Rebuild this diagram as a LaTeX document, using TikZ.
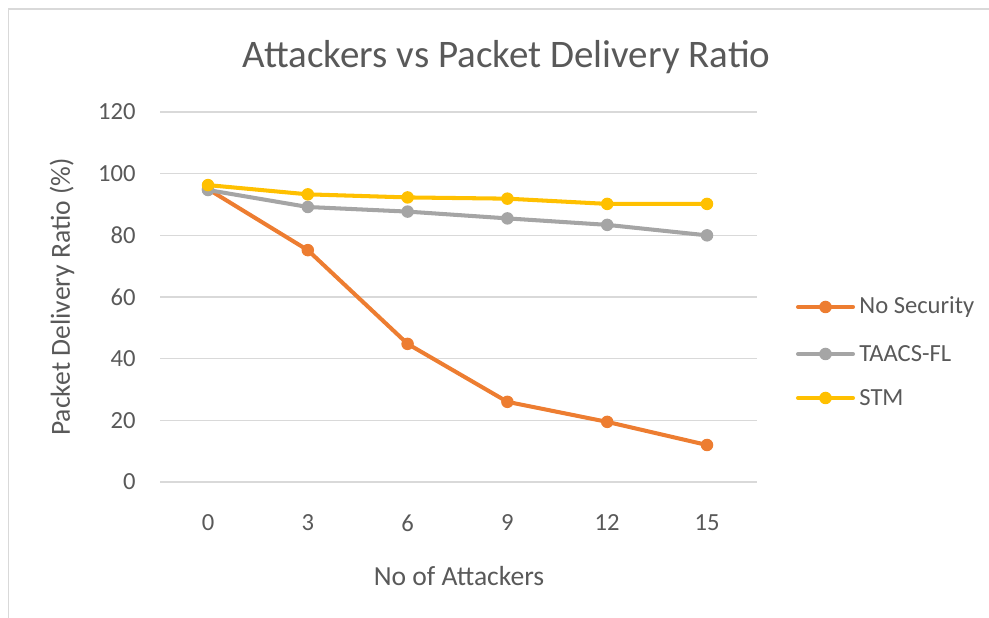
\documentclass[tikz,border=0pt]{standalone}
\usepackage{fontspec}
\setmainfont{Carlito}
\usepackage{xcolor,tikz}
\definecolor{nosec}{HTML}{ED7D31}
\definecolor{taacs}{HTML}{A5A5A5}
\definecolor{stm}{HTML}{FFC000}
\definecolor{txtgray}{HTML}{595959}
\definecolor{gridgray}{HTML}{D9D9D9}

\begin{document}
\begin{tikzpicture}[every node/.style={font=\fontsize{14}{16}\selectfont,text=txtgray},
  axtitle/.style={font=\fontsize{15.7}{18}\selectfont},
  series/.style={line width=2.3pt,line join=round,line cap=round},
  dot/.style={circle,fill=#1,inner sep=0pt,minimum size=0.25cm}]
\useasboundingbox (0,0) rectangle (19.78,12.36);
\draw[gridgray,line width=1.1pt] (0.17,0)--(0.17,12.18)--(19.78,12.18);
\node (title) at (10.13,11.22) {\fontsize{22.2}{25}\selectfont Attackers vs Packet Delivery Ratio};
% grid and value axis
\foreach \v in {0,20,...,120}{
  \draw[gridgray,line width=.6pt] (3.20,2.72+\v*0.061667)--(15.14,2.72+\v*0.061667);
  \node[anchor=east,inner sep=0pt] (ytick\v) at (2.72,2.72+\v*0.061667) {\v};
}
% category axis
\node (xtick0) at (4.160,1.90) {0};
\node (xtick3) at (6.156,1.90) {3};
\node (xtick6) at (8.152,1.90) {6};
\node (xtick9) at (10.148,1.90) {9};
\node (xtick12) at (12.144,1.90) {12};
\node (xtick15) at (14.140,1.90) {15};
\node[axtitle] (xlabel) at (9.18,0.84) {No of Attackers};
\node[axtitle,rotate=90] (ylabel) at (1.24,6.42) {Packet Delivery Ratio (\%)};
% data points
\coordinate (ns0) at (4.160,2.72+95.0*0.061667);
\coordinate (ns1) at (6.156,2.72+75.2*0.061667);
\coordinate (ns2) at (8.152,2.72+44.8*0.061667);
\coordinate (ns3) at (10.148,2.72+26.0*0.061667);
\coordinate (ns4) at (12.144,2.72+19.5*0.061667);
\coordinate (ns5) at (14.140,2.72+12.0*0.061667);
\coordinate (tf0) at (4.160,2.72+94.7*0.061667);
\coordinate (tf1) at (6.156,2.72+89.2*0.061667);
\coordinate (tf2) at (8.152,2.72+87.7*0.061667);
\coordinate (tf3) at (10.148,2.72+85.5*0.061667);
\coordinate (tf4) at (12.144,2.72+83.4*0.061667);
\coordinate (tf5) at (14.140,2.72+80.0*0.061667);
\coordinate (st0) at (4.160,2.72+96.3*0.061667);
\coordinate (st1) at (6.156,2.72+93.3*0.061667);
\coordinate (st2) at (8.152,2.72+92.3*0.061667);
\coordinate (st3) at (10.148,2.72+91.9*0.061667);
\coordinate (st4) at (12.144,2.72+90.2*0.061667);
\coordinate (st5) at (14.140,2.72+90.2*0.061667);
\draw[series,nosec] (ns0)--(ns1)--(ns2)--(ns3)--(ns4)--(ns5);
\foreach \i in {0,...,5} \node[dot=nosec] at (ns\i) {};
\draw[series,taacs] (tf0)--(tf1)--(tf2)--(tf3)--(tf4)--(tf5);
\foreach \i in {0,...,5} \node[dot=taacs] at (tf\i) {};
\draw[series,stm] (st0)--(st1)--(st2)--(st3)--(st4)--(st5);
\foreach \i in {0,...,5} \node[dot=stm] at (st\i) {};
% legend
\coordinate (lga) at (15.96,6.22); \coordinate (lgb) at (17.06,6.22);
\draw[series,nosec] (lga)--(lgb); \node[dot=nosec] at (16.51,6.22) {};
\node[anchor=west,inner sep=0pt] (lgnosec) at (17.18,6.22) {No Security};
\coordinate (lgc) at (15.96,5.28); \coordinate (lgd) at (17.06,5.28);
\draw[series,taacs] (lgc)--(lgd); \node[dot=taacs] at (16.51,5.28) {};
\node[anchor=west,inner sep=0pt] (lgtaacs) at (17.18,5.28) {TAACS-FL};
\coordinate (lge) at (15.96,4.40); \coordinate (lgf) at (17.06,4.40);
\draw[series,stm] (lge)--(lgf); \node[dot=stm] at (16.51,4.40) {};
\node[anchor=west,inner sep=0pt] (lgstm) at (17.18,4.40) {STM};
\end{tikzpicture}
\end{document}
